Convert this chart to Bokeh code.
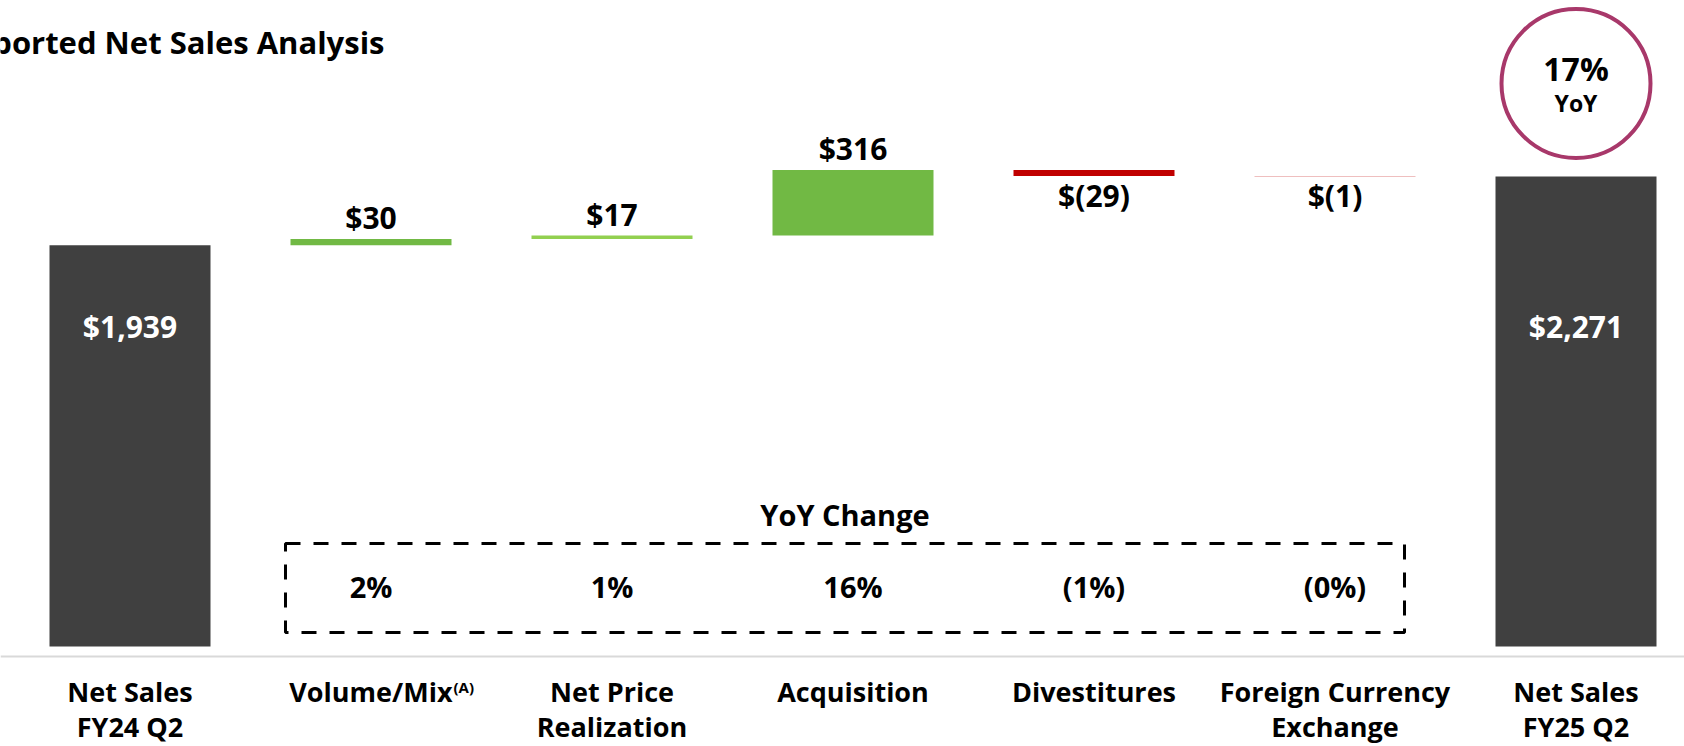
from bokeh.plotting import figure
from bokeh.models import Range1d, Span, BoxAnnotation
from bokeh.core.properties import value
from bokeh.embed import file_html
from bokeh.resources import INLINE

# ---------------- data ----------------
categories = ["Net Sales FY24 Q2", "Volume/Mix", "Net Price Realization", "Acquisition",
              "Divestitures", "Foreign Currency Exchange", "Net Sales FY25 Q2"]
label_line1 = ["Net Sales", "Volume/Mix", "Net Price", "Acquisition", "Divestitures",
               "Foreign Currency", "Net Sales"]
label_line2 = ["FY24 Q2", "", "Realization", "", "", "Exchange", "FY25 Q2"]
start_total = 1939
changes = [30, 17, 316, -29, -1]
end_total = 2271
value_labels = ["$1,939", "$30", "$17", "$316", "$(29)", "$(1)", "$2,271"]
yoy_labels = ["2%", "1%", "16%", "(1%)", "(0%)"]
total_yoy = "17%"
title_text = "Reported Net Sales Analysis"

# ---------------- styles ----------------
bar_colors = ["#404040", "#71B944", "#92D050", "#71B944", "#C00000", "#C00000", "#404040"]
FONT = value("Open Sans")
W, H = 1684, 746
X0_PX, X_STEP = 129.5, 241.0      # pixel centre of first category, pixels per category
Y0_PX, Y_SCALE = 646.0, 0.207     # pixel row of $0, pixels per $
BAR_W = 161.0 / X_STEP
BASE_FIX = 0.45                   # empirical shift of the svg text baseline (in em)


def px_x(px):
    return (px - X0_PX) / X_STEP


def px_y(py):
    return (Y0_PX - py) / Y_SCALE


def dy(pixels):
    return pixels / Y_SCALE


def txt(x, y, text, size, color="black", align="center"):
    p.text(x=x, y=[v + dy(BASE_FIX * size) for v in y], text=text, text_color=color,
           text_align=align, text_baseline="alphabetic", text_font=FONT,
           text_font_style="bold", text_font_size=f"{size}px")


# ---------------- waterfall geometry from data ----------------
n = len(categories)
xs = list(range(n))
bottoms, tops = [0], [start_total]
running = start_total
for c in changes:
    bottoms.append(min(running, running + c))
    tops.append(max(running, running + c))
    running += c
bottoms.append(0)
tops.append(end_total)

p = figure(width=W, height=H, output_backend="svg", toolbar_location=None,
           x_range=Range1d(px_x(0), px_x(W)), y_range=Range1d(px_y(H), px_y(0)),
           x_axis_type=None, y_axis_type=None, min_border=0, outline_line_color=None,
           background_fill_color="white", border_fill_color="white")
p.grid.visible = False

p.vbar(x=xs, bottom=bottoms, top=tops, width=BAR_W, fill_color=bar_colors,
       line_color=None)

# baseline rule
p.add_layout(Span(location=px_y(656), dimension="width", line_color="#D9D9D9", line_width=2))

# value labels
lab_x, lab_y, lab_t, lab_c = [], [], [], []
for i in range(n):
    lab_x.append(xs[i])
    lab_t.append(value_labels[i])
    if i == 0 or i == n - 1:
        lab_y.append(px_y(339))
        lab_c.append("white")
    elif changes[i - 1] >= 0:
        lab_y.append(tops[i] + dy(7.5))
        lab_c.append("black")
    else:
        lab_y.append(bottoms[i] - dy(33))
        lab_c.append("black")
txt(lab_x, lab_y, lab_t, 30, color=lab_c)

# category labels (two rows; Volume/Mix handled separately for its superscript)
row1 = [i for i in xs if i != 1]
txt(row1, [px_y(703)] * len(row1), [label_line1[i] for i in row1], 27)
row2 = [i for i in xs if label_line2[i]]
txt(row2, [px_y(738)] * len(row2), [label_line2[i] for i in row2], 27)
txt([px_x(452)], [px_y(703)], [label_line1[1]], 27, align="right")
txt([px_x(453)], [px_y(693)], ["(A)"], 15, align="left")

# YoY change box
p.add_layout(BoxAnnotation(left=px_x(285), right=px_x(1404), top=px_y(543), bottom=px_y(632),
                           fill_color=None, fill_alpha=0, line_color="black", line_alpha=1.0,
                           line_width=3, line_dash="15 13"))
txt([px_x(844.5)], [px_y(527)], ["YoY Change"], 29)
txt(xs[1:6], [px_y(599)] * 5, yoy_labels, 29)

# total YoY circle
p.scatter(x=[xs[-1]], y=[px_y(83)], size=149, marker="circle", fill_color=None,
          line_color="#A8386A", line_width=4)
txt([xs[-1]], [px_y(82)], [total_yoy], 32)
txt([xs[-1]], [px_y(113)], ["YoY"], 23)

# title (left part cut off by the page edge, as in the source slide)
txt([px_x(-47)], [px_y(55)], [title_text], 31, align="left")

open("out.html", "w").write(file_html(p, INLINE))
